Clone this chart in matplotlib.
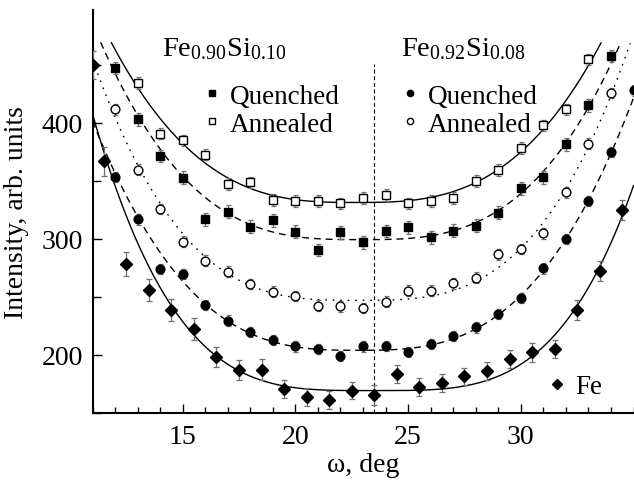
import numpy as np
import matplotlib
matplotlib.use("Agg")
import matplotlib.pyplot as plt
from matplotlib.lines import Line2D
from matplotlib.ticker import MultipleLocator, FixedLocator

plt.rcParams.update({
    "font.family": ["Liberation Serif", "DejaVu Serif"],
    "mathtext.fontset": "custom",
    "mathtext.rm": "Liberation Serif",
    "mathtext.it": "Liberation Serif:italic",
    "mathtext.bf": "Liberation Serif:bold",
    "font.size": 20,
})

# ---- measured intensities -------------------------------------------------
# Fe0.90Si0.10, quenched (filled squares)
omega_s_q = [12, 13, 14, 15, 16, 17, 18, 19, 20, 21, 22, 23, 24, 25, 26, 27,
             28, 29, 30, 31, 32, 33, 34]
int_s_q = [447.3, 403.0, 371.6, 352.7, 316.9, 323.5, 310.6, 316.0, 306.3,
           290.5, 305.7, 297.0, 306.8, 310.2, 301.4, 307.1, 311.4, 322.6,
           343.5, 353.0, 381.6, 415.1, 457.6]
err_s_q = 5.5

# Fe0.90Si0.10, annealed (open squares)
omega_s_a = [13, 14, 15, 16, 17, 18, 19, 20, 21, 22, 23, 24, 25, 26, 27, 28,
             29, 30, 31, 32, 33]
int_s_a = [434.4, 390.8, 385.0, 372.7, 347.2, 348.7, 333.5, 332.9, 332.9,
           330.6, 335.5, 337.8, 330.6, 332.9, 335.5, 349.8, 359.2, 378.5,
           397.9, 411.7, 454.7]
err_s_a = 5.0

# Fe0.92Si0.08, quenched (filled circles)
omega_c_q = [12, 13, 14, 15, 16, 17, 18, 19, 20, 21, 22, 23, 24, 25, 26, 27,
             28, 29, 30, 31, 32, 33, 34, 35]
int_c_q = [353.6, 316.9, 274.1, 269.6, 243.2, 229.7, 219.7, 212.8, 207.4,
           205.3, 199.3, 207.4, 207.9, 202.5, 209.4, 216.5, 223.7, 235.2,
           248.9, 274.7, 299.9, 332.9, 375.1, 428.0]
err_c_q = 4.5

# Fe0.92Si0.08, annealed (open circles)
omega_c_a = [12, 13, 14, 15, 16, 17, 18, 19, 20, 21, 22, 23, 24, 25, 26, 27,
             28, 29, 30, 31, 32, 33, 34]
int_c_a = [411.7, 359.8, 325.7, 297.7, 281.3, 271.9, 261.0, 254.7, 250.9,
           242.6, 241.8, 240.3, 246.1, 255.5, 255.5, 261.8, 266.7, 286.8,
           291.3, 304.8, 340.1, 382.2, 426.0]
err_c_a = 4.5

# pure Fe (diamonds)
omega_fe = [11.0, 11.5, 12.5, 13.5, 14.5, 15.5, 16.5, 17.5, 18.5, 19.5, 20.5,
            21.5, 22.5, 23.5, 24.5, 25.5, 26.5, 27.5, 28.5, 29.5, 30.5, 31.5,
            32.5, 33.5, 34.5]
int_fe = [450.0, 367.0, 278.4, 256.1, 238.9, 222.5, 197.9, 187.3, 187.3,
          170.7, 163.8, 161.5, 169.2, 165.3, 183.8, 172.4, 175.8, 181.6,
          185.9, 196.5, 202.2, 205.3, 238.9, 272.7, 324.9]
err_fe = [12.0, 12.5, 10.5, 9.7, 9.7, 9.6, 8.6, 8.6, 9.0, 7.6, 7.4, 7.7, 7.4,
          8.6, 7.9, 7.6, 7.7, 7.4, 7.7, 7.4, 7.9, 7.9, 8.7, 8.6, 8.3]

# valley model I = a + b*|w - c|**p : centre c and power p of each curve
fit_center = {"s_a": 22.7, "s_q": 22.9, "c_a": 22.8, "c_q": 22.8, "fe": 23.5}
fit_power = {"s_a": 2.9, "s_q": 3.0, "c_a": 3.1, "c_q": 2.9, "fe": 3.6}

OMEGA_CENTER = 23.5   # symmetry axis of the rocking curves, deg
FIT_TOP = 470.0       # fitted curves are drawn up to this intensity


def fit_valley(x, y, c, p):
    """Least-squares a, b for I = a + b*|w - c|**p."""
    x = np.asarray(x, float)
    y = np.asarray(y, float)
    A = np.column_stack([np.ones_like(x), np.abs(x - c) ** p])
    a, b = np.linalg.lstsq(A, y, rcond=None)[0]
    return lambda t: a + b * np.abs(t - c) ** p


fig = plt.figure(figsize=(6.34, 4.85), dpi=100)
ax = fig.add_axes([92.5 / 634, 71 / 485, 541 / 634, 402.6 / 485])
ax.set_xlim(11, 35)
ax.set_ylim(150, 497)

grid = np.linspace(11, 35, 800)
bar_color = "#707070"
dash = (0, (5, 3.5))
dots = (0, (1.2, 4.2))

series = [
    ("s_a", omega_s_a, int_s_a, err_s_a, "s", "white", 5.5, "-", 1.8),
    ("s_q", omega_s_q, int_s_q, err_s_q, "s", "black", 5.5, dash, 1.8),
    ("c_a", omega_c_a, int_c_a, err_c_a, "o", "white", 6.3, dots, 1.8),
    ("c_q", omega_c_q, int_c_q, err_c_q, "o", "black", 6.3, dash, 1.8),
    ("fe", omega_fe, int_fe, err_fe, "D", "black", 6.2, "-", 2.4),
]

for key, x, y, e, mk, face, ms, ls, cap in series:
    f = fit_valley(x, y, fit_center[key], fit_power[key])
    yc = f(grid)
    yc = np.where(yc <= FIT_TOP, yc, np.nan)
    ax.plot(grid, yc, color="black", lw=1.0, ls=ls, zorder=2)
    ax.errorbar(x, y, yerr=e, fmt="none", ecolor=bar_color, elinewidth=0.9,
                capsize=cap, capthick=0.9, zorder=3)
    ax.plot(x, y, ls="none", marker=mk, ms=ms, mfc=face, mec="black",
            mew=1.0, zorder=4)

ax.axvline(OMEGA_CENTER, ymin=0, ymax=0.867, color="black", lw=0.8,
           ls=(0, (3.5, 2.5)), zorder=1)

# axes styling
for side in ("top", "right"):
    ax.spines[side].set_visible(False)
for side in ("left", "bottom"):
    ax.spines[side].set_linewidth(1.5)
ax.xaxis.set_major_locator(FixedLocator([15, 20, 25, 30]))
ax.xaxis.set_minor_locator(MultipleLocator(1))
ax.yaxis.set_major_locator(MultipleLocator(100))
ax.yaxis.set_minor_locator(MultipleLocator(50))
ax.tick_params(axis="both", which="both", direction="in", width=1.0)
ax.tick_params(axis="x", which="major", length=6.5, pad=8)
ax.tick_params(axis="x", which="minor", length=4.0)
ax.tick_params(axis="y", which="major", length=6.5, pad=7)
ax.tick_params(axis="y", which="minor", length=6.0)
ax.set_xlabel("ω, deg", labelpad=2)
ax.set_ylabel("Intensity, arb. units", labelpad=9)

# sample labels
ax.text(0.1285, 0.890, r"$\mathrm{Fe}_{0.90}\mathrm{Si}_{0.10}$",
        transform=ax.transAxes, ha="left", va="baseline", fontsize=20.5)
ax.text(0.570, 0.890, r"$\mathrm{Fe}_{0.92}\mathrm{Si}_{0.08}$",
        transform=ax.transAxes, ha="left", va="baseline", fontsize=20.5)

legend_kw = dict(frameon=False, borderpad=0, borderaxespad=0,
                 handlelength=0.5, handletextpad=0.4, labelspacing=0.1,
                 fontsize=19.5, loc="center left")

h_sq = [Line2D([], [], ls="none", marker="s", ms=4.0, mfc="black",
               mec="black", mew=1.0),
        Line2D([], [], ls="none", marker="s", ms=4.0, mfc="white",
               mec="black", mew=1.0)]
leg1 = ax.legend(h_sq, ["Quenched", "Annealed"],
                 bbox_to_anchor=(0.209, 0.752), **legend_kw)
ax.add_artist(leg1)

h_ci = [Line2D([], [], ls="none", marker="o", ms=4.5, mfc="black",
               mec="black", mew=1.0),
        Line2D([], [], ls="none", marker="o", ms=4.5, mfc="white",
               mec="black", mew=1.0)]
leg2 = ax.legend(h_ci, ["Quenched", "Annealed"],
                 bbox_to_anchor=(0.574, 0.752), **legend_kw)
ax.add_artist(leg2)

h_fe = [Line2D([], [], ls="none", marker="D", ms=5.0, mfc="black",
               mec="black", mew=1.0)]
ax.legend(h_fe, ["Fe"], bbox_to_anchor=(0.847, 0.0646), **legend_kw)

fig.savefig("out.png", dpi=100)
